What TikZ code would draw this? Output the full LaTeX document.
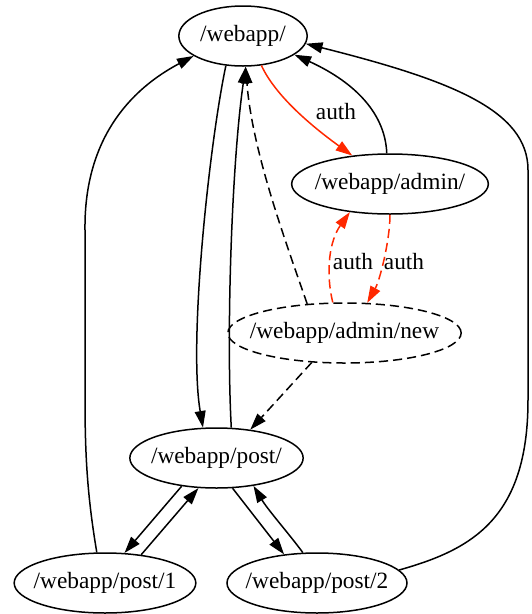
\documentclass[tikz,border=0pt]{standalone}
\usepackage{fontspec}
\setmainfont{Liberation Serif}
\usetikzlibrary{shapes.geometric,arrows.meta}
\definecolor{authred}{RGB}{255,40,0}
\newcommand\pagetxt[1]{\makebox[0pt]{#1}}
\tikzset{
  page/.style={ellipse, draw, line width=0.9pt, minimum height=36pt, inner sep=0pt},
  edge/.style={line width=0.9pt, -{Triangle[length=10pt,width=6.5pt]}},
  auth/.style={edge, authred},
  weak/.style={dash pattern=on 5.5pt off 3pt},
  lbl/.style={inner sep=0pt}
}
\begin{document}
\begin{tikzpicture}[x=0.6pt, y=-0.6pt, font=\fontsize{14}{16}\selectfont]
  \useasboundingbox (0,0) rectangle (532,614);
  \node[page, minimum width=77pt] (w) at (243,36) {\pagetxt{/webapp/}};
  \node[page, minimum width=118pt] (a) at (390,184) {\pagetxt{/webapp/admin/}};
  \node[page, weak, minimum width=140pt] (n) at (344.5,333) {\pagetxt{/webapp/admin/new}};
  \node[page, minimum width=104pt] (p) at (216.5,458) {\pagetxt{/webapp/post/}};
  \node[page, minimum width=109pt] (p1) at (105,583) {\pagetxt{/webapp/post/1}};
  \node[page, minimum width=108pt] (p2) at (317,583) {\pagetxt{/webapp/post/2}};
  \node[lbl] (l1) at (336,112) {auth};
  \node[lbl] (l2) at (353,262) {auth};
  \node[lbl] (l3) at (404,262) {auth};
  \draw[edge] (w.240) .. controls (210,140) and (188,340) .. (p.114);
  \draw[edge] (p.64) .. controls (226,330) and (232,160) .. (w.275);
  \draw[auth] (w.302) .. controls (275,95) and (310,125) .. (a.143);
  \draw[edge] (a.96) .. controls (385,110) and (350,80) .. (w.340);
  \draw[auth, weak] (a.270) .. controls (390,240) and (380,280) .. (n.53);
  \draw[auth, weak] (n.111) .. controls (325,270) and (330,240) .. (a.215);
  \draw[edge, weak] (n.142) .. controls (285,240) and (252,150) .. (w.275);
  \draw[edge, weak] (n.222) -- (p.40);
  \draw[edge] (p.219) -- (p1.57);
  \draw[edge] (p1.38) -- (p.239);
  \draw[edge] (p.298) -- (p2.139);
  \draw[edge] (p2.115) .. controls (290,535) and (268,510) .. (p.323);
  \draw[edge] (p1.105) .. controls (88,500) and (85,460) .. (85,400) -- (85,230)
    .. controls (84,150) and (120,95) .. (w.202);
  \draw[edge] (p2.9) .. controls (470,550) and (528,520) .. (528,400) -- (528,170)
    .. controls (528,110) and (450,80) .. (w.353);
\end{tikzpicture}
\end{document}
